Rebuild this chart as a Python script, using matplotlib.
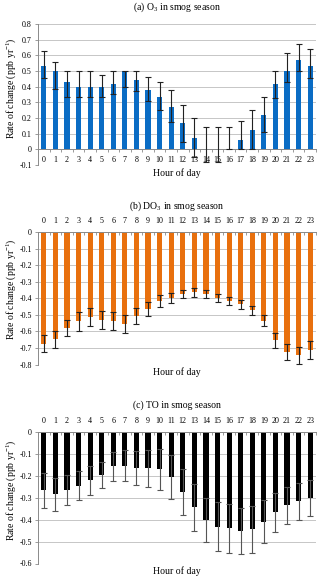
import matplotlib
matplotlib.use("Agg")
import matplotlib.pyplot as plt
import numpy as np
from matplotlib.ticker import FuncFormatter, MultipleLocator

plt.rcParams['font.family'] = ['Liberation Serif', 'DejaVu Serif']
plt.rcParams['mathtext.fontset'] = 'custom'
plt.rcParams['mathtext.rm'] = 'Liberation Serif'
plt.rcParams['mathtext.it'] = 'Liberation Serif:italic'
plt.rcParams['axes.unicode_minus'] = False

hours = list(range(24))

o3 = [0.53, 0.50, 0.43, 0.40, 0.40, 0.40, 0.415, 0.50, 0.445, 0.377, 0.334, 0.272,
      0.166, 0.074, -0.005, -0.005, 0.0, 0.057, 0.123, 0.221, 0.415, 0.50, 0.572, 0.532]
o3_low = [0.453, 0.383, 0.334, 0.334, 0.334, 0.334, 0.351, 0.398, 0.374, 0.309, 0.249, 0.177,
          0.05, -0.05, -0.083, -0.083, 0.0, 0.0, 0.0, 0.113, 0.33, 0.43, 0.50, 0.455]
o3_high = [0.628, 0.557, 0.50, 0.50, 0.50, 0.474, 0.50, 0.50, 0.50, 0.462, 0.43, 0.377,
           0.285, 0.20, 0.143, 0.143, 0.143, 0.183, 0.251, 0.334, 0.50, 0.617, 0.67, 0.638]

do3 = [-0.675, -0.648, -0.58, -0.54, -0.513, -0.53, -0.537, -0.557, -0.508, -0.467, -0.415, -0.40,
       -0.375, -0.365, -0.375, -0.40, -0.415, -0.437, -0.472, -0.535, -0.655, -0.725, -0.745, -0.712]
do3_err = [0.052, 0.05, 0.05, 0.057, 0.053, 0.055, 0.053, 0.053, 0.05, 0.043, 0.035, 0.03,
           0.025, 0.025, 0.025, 0.025, 0.025, 0.025, 0.027, 0.035, 0.045, 0.05, 0.052, 0.052]

to = [-0.267, -0.285, -0.265, -0.245, -0.222, -0.197, -0.158, -0.155, -0.165, -0.167, -0.172, -0.207,
      -0.275, -0.345, -0.40, -0.432, -0.44, -0.452, -0.445, -0.41, -0.367, -0.335, -0.317, -0.30]
to_err = [0.08, 0.075, 0.07, 0.065, 0.066, 0.058, 0.067, 0.07, 0.077, 0.083, 0.093, 0.10,
          0.105, 0.105, 0.10, 0.113, 0.11, 0.105, 0.105, 0.098, 0.09, 0.085, 0.083, 0.082]

titles = ["(a) O$_3$ in smog season", "(b) DO$_3$ in smog season", "(c) TO in smog season"]
ylabel = "Rate of change (ppb yr$^{-1}$)"
xlabel = "Hour of day"

W, H = 320, 580
fig = plt.figure(figsize=(W / 100, H / 100), dpi=100)

def frac_axes(top, bottom, left=38, right=316):
    return fig.add_axes([left / W, 1 - bottom / H, (right - left) / W, (bottom - top) / H])

grid_c = '#c6c6c6'
spine_c = '#8a8a8a'
fs_tick = 5.8
fs_lab = 7.0

def fmt(v, pos):
    if abs(v) < 1e-9:
        return '0'
    return f'{v:.1f}'

def style(ax, ymin, ymax):
    ax.set_xlim(-0.5, 23.5)
    ax.set_ylim(ymin, ymax)
    ax.yaxis.set_major_locator(MultipleLocator(0.1))
    ax.yaxis.set_major_formatter(FuncFormatter(fmt))
    ax.grid(axis='y', color=grid_c, lw=0.7, zorder=0)
    ax.set_axisbelow(True)
    for s in ['top', 'right']:
        ax.spines[s].set_visible(False)
    ax.spines['left'].set_color(spine_c)
    ax.spines['left'].set_linewidth(0.7)
    ax.tick_params(axis='y', labelsize=fs_tick, length=2.5, width=0.6, color=spine_c, pad=2)
    ax.set_xticks(hours)
    ax.set_xticks(np.arange(-0.5, 24, 1.0), minor=True)
    ax.set_xticklabels([str(h) for h in hours])
    ax.tick_params(axis='x', which='major', length=0, labelsize=fs_tick)
    ax.tick_params(axis='x', which='minor', length=2, width=0.6, color=spine_c)

ekw = dict(ecolor='#222222', elinewidth=0.8, capsize=2.2, capthick=0.8)

# Panel a
ax1 = frac_axes(24, 165)
ax1.bar(hours, o3, width=0.45, color='#0A6CC4', zorder=2)
lo = np.array(o3) - np.array(o3_low)
hi = np.array(o3_high) - np.array(o3)
ax1.errorbar(hours, o3, yerr=[lo, hi], fmt='none', zorder=3, **ekw)
style(ax1, -0.1, 0.8)
ax1.spines['bottom'].set_position(('data', 0))
ax1.spines['bottom'].set_color(spine_c)
ax1.spines['bottom'].set_linewidth(0.7)
ax1.tick_params(axis='x', which='major', pad=5)
ax1.tick_params(axis='x', which='minor', direction='out')

# Panel b
ax2 = frac_axes(232, 364.5)
ax2.bar(hours, do3, width=0.45, color='#E8700E', zorder=2)
ax2.errorbar(hours, do3, yerr=do3_err, fmt='none', zorder=3, **ekw)
style(ax2, -0.8, 0.0)
ax2.xaxis.tick_top()
ax2.spines['top'].set_visible(True)
ax2.spines['top'].set_color(spine_c)
ax2.spines['top'].set_linewidth(0.7)
ax2.spines['bottom'].set_visible(False)
ax2.tick_params(axis='x', which='major', pad=5)
ax2.tick_params(axis='x', which='minor', direction='in')

# Panel c
ax3 = frac_axes(431.7, 563.5)
ax3.bar(hours, to, width=0.45, color='#000000', zorder=2)
ax3.errorbar(hours, to, yerr=to_err, fmt='none', zorder=3,
             ecolor='#555555', elinewidth=0.8, capsize=2.2, capthick=0.8)
style(ax3, -0.6, 0.0)
ax3.xaxis.tick_top()
ax3.spines['top'].set_visible(True)
ax3.spines['top'].set_color(spine_c)
ax3.spines['top'].set_linewidth(0.7)
ax3.spines['bottom'].set_visible(False)
ax3.tick_params(axis='x', which='major', pad=5)
ax3.tick_params(axis='x', which='minor', direction='in')

cx = 177 / W
for title, ty, xy, yy in [(titles[0], 7, 173, 88), (titles[1], 206, 372, 289), (titles[2], 405, 571, 490)]:
    fig.text(cx, 1 - ty / H, title, ha='center', va='center', fontsize=fs_lab)
    fig.text(cx, 1 - xy / H, xlabel, ha='center', va='center', fontsize=fs_lab)
    fig.text(11 / W, 1 - yy / H, ylabel, ha='center', va='center', rotation=90, fontsize=fs_lab)

fig.savefig('out.png', dpi=100)
